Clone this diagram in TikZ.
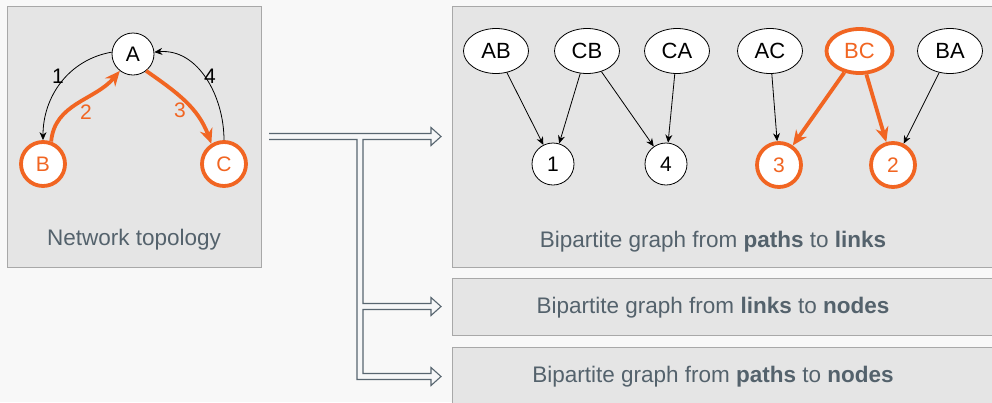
\documentclass[tikz,border=0pt]{standalone}
\usepackage{fontspec}
\setmainfont{Liberation Sans}
\usetikzlibrary{arrows.meta,calc,shapes.geometric}
\definecolor{bg}{RGB}{248,248,248}
\definecolor{panelfill}{RGB}{229,229,229}
\definecolor{panelline}{RGB}{168,168,168}
\definecolor{hot}{RGB}{241,101,34}
\definecolor{captext}{RGB}{84,98,108}
\definecolor{pipe}{RGB}{88,102,112}
\definecolor{pipefill}{RGB}{246,247,248}
\begin{document}
\begin{tikzpicture}[x=1pt,y=-1pt,
  panel/.style={draw=panelline, fill=panelfill, line width=0.9pt, inner sep=0pt, outer sep=0pt},
  caption/.style={text=captext, font=\fontsize{22.5}{26}\selectfont, inner sep=0pt},
  vtx/.style={circle, draw=black, fill=white, line width=0.8pt, minimum size=42pt, inner sep=0pt,
    font=\fontsize{21}{24}\selectfont},
  hotvtx/.style={vtx, draw=hot, text=hot, line width=3.8pt, minimum size=44pt},
  pathnode/.style={ellipse, draw=black, fill=white, line width=0.8pt, minimum width=65pt,
    minimum height=45pt, inner sep=0pt, font=\fontsize{22}{25}\selectfont},
  hotpath/.style={pathnode, draw=hot, text=hot, line width=3.8pt, minimum width=66pt, minimum height=44pt},
  thinedge/.style={draw=black, line width=0.8pt, -{Stealth[length=8pt,width=7pt]}},
  hotedge/.style={draw=hot, line width=3.8pt, -{Stealth[length=15pt,width=13pt]}},
  elabel/.style={font=\fontsize{21}{24}\selectfont, inner sep=0pt},
]
\useasboundingbox (0,0) rectangle (992,402);
\clip (0,0) rectangle (992,402);
\fill[bg] (0,0) rectangle (992,402);

% panels
\node[panel, minimum width=254pt, minimum height=261pt] (topo) at (134,136.5) {};
\node[panel, minimum width=548pt, minimum height=261pt] (pl) at (726,136.5) {};
\node[panel, minimum width=548pt, minimum height=57pt] (ln) at (726,306.5) {};
\node[panel, minimum width=548pt, minimum height=59pt] (pn) at (726,376.5) {};

% network topology
\node[vtx] (A) at (133,54) {A};
\node[hotvtx] (B) at (43,164) {B};
\node[hotvtx] (C) at (224,164) {C};
\draw[thinedge] (A.175) to[out=190, in=90] (B.north);
\draw[hotedge] (B.70) to[out=85, in=230] (A.232);
\draw[hotedge] (A.-52) to[out=-35, in=110] (C.122);
\draw[thinedge] (C.north) to[out=90, in=5] (A.5);
\node[elabel] (l1) at (58,76) {1};
\node[elabel, text=hot] (l2) at (86,112) {2};
\node[elabel, text=hot] (l3) at (180,110) {3};
\node[elabel] (l4) at (210,76) {4};
\node[caption] (topocap) at (134,240) {Network topology};

% paths -> links
\node[pathnode] (AB) at (496,51) {AB};
\node[pathnode] (CB) at (587,51) {CB};
\node[pathnode] (CA) at (677,51) {CA};
\node[pathnode] (AC) at (770,51) {AC};
\node[hotpath] (BC) at (859.5,51) {BC};
\node[pathnode] (BA) at (950,51) {BA};
\node[vtx] (k1) at (553,164) {1};
\node[vtx] (k4) at (666,164) {4};
\node[hotvtx] (k3) at (779,165) {3};
\node[hotvtx] (k2) at (893,165) {2};
\draw[thinedge] (AB) -- (k1);
\draw[thinedge] (CB) -- (k1);
\draw[thinedge] (CB) -- (k4);
\draw[thinedge] (CA) -- (k4);
\draw[thinedge] (AC) -- (k3);
\draw[hotedge] (BC) -- (k3);
\draw[hotedge] (BC) -- (k2);
\draw[thinedge] (BA) -- (k2);
\node[caption] (plcap) at (713,242) {Bipartite graph from \textbf{paths} to \textbf{links}};
\node[caption] (lncap) at (713,308) {Bipartite graph from \textbf{links} to \textbf{nodes}};
\node[caption] (pncap) at (713,377) {Bipartite graph from \textbf{paths} to \textbf{nodes}};

% branching hollow pipe from the topology panel to the three graphs
\coordinate (src) at ($(topo.east)+(8,0)$);
\coordinate (t1) at ($(pl.west)+(-11,0)$);
\coordinate (t2) at ($(ln.west)+(-11,0)$);
\coordinate (t3) at ($(pn.west)+(-11,0)$);
\path[draw=pipe, fill=pipefill, line width=1.1pt, line join=miter]
  ($(src)+(0,-3)$) -- ($(t1)+(-10,-3)$) -- ($(t1)+(-10,-9)$) -- (t1)
  -- ($(t1)+(-10,9)$) -- ($(t1)+(-10,3)$) -- ($(t1)+(-78,3)$)
  -- ($(t2)+(-78,-3)$) -- ($(t2)+(-10,-3)$) -- ($(t2)+(-10,-9)$) -- (t2)
  -- ($(t2)+(-10,9)$) -- ($(t2)+(-10,3)$) -- ($(t2)+(-78,3)$)
  -- ($(t3)+(-78,-3)$) -- ($(t3)+(-10,-3)$) -- ($(t3)+(-10,-9)$) -- (t3)
  -- ($(t3)+(-10,9)$) -- ($(t3)+(-10,3)$) -- ($(t3)+(-84,3)$)
  -- ($(t1)+(-84,3)$) -- ($(src)+(0,3)$);
\end{tikzpicture}
\end{document}
